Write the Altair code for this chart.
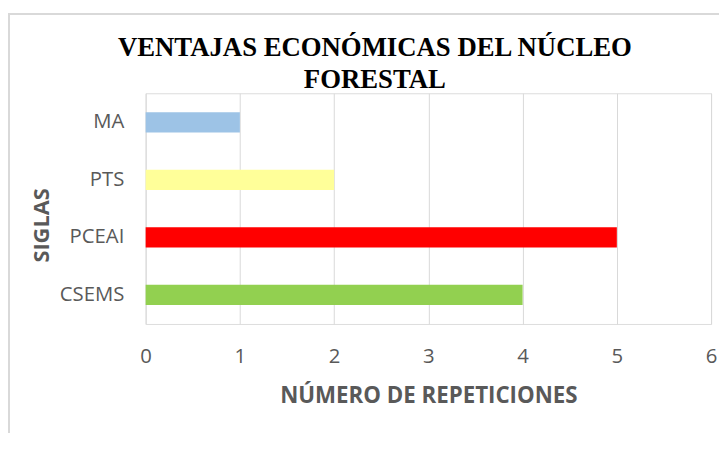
import altair as alt
import pandas as pd

categories = ["MA", "PTS", "PCEAI", "CSEMS"]
values = [1, 2, 5, 4]
colors = ["#9DC3E6", "#FFFF99", "#FF0000", "#92D050"]
x_ticks = [0, 1, 2, 3, 4, 5, 6]

df = pd.DataFrame({"sigla": categories, "rep": values})

bars = alt.Chart(df).mark_bar().encode(
    y=alt.Y("sigla:N", sort=categories,
            scale=alt.Scale(paddingInner=0.65, paddingOuter=0.33),
            axis=alt.Axis(title="SIGLAS", titleFont="Open Sans", titleFontSize=22,
                          titleFontWeight="bold", titleColor="#595959",
                          titleAngle=270, titleX=-105, titleY=133,
                          titleAlign="center", titleBaseline="middle",
                          labelFont="Open Sans", labelFontSize=20.5, labelColor="#595959",
                          labelPadding=22, ticks=False, domain=False, grid=False)),
    x=alt.X("rep:Q", scale=alt.Scale(domain=[0, 6], nice=False),
            axis=alt.Axis(title="NÚMERO DE REPETICIONES", titleFont="Open Sans",
                          titleFontSize=22.5, titleFontWeight="bold", titleColor="#595959",
                          titleY=72, titleBaseline="middle",
                          values=x_ticks, format="d", labelFlush=False,
                          labelFont="Open Sans", labelFontSize=20.5, labelColor="#595959",
                          labelPadding=23, ticks=False, domain=False,
                          grid=True, gridColor="#D9D9D9", gridWidth=1)),
    color=alt.Color("sigla:N", scale=alt.Scale(domain=categories, range=colors), legend=None),
)

frame = alt.Chart(df).mark_rect(fill=None, stroke="#D9D9D9", strokeWidth=1.5).encode(
    x=alt.value(-138), x2=alt.value(640), y=alt.value(-80), y2=alt.value(400)
)

chart = alt.layer(frame, bars).properties(
    width=571, height=233,
    autosize=alt.AutoSizeParams(type="none"),
    padding={"left": 139, "top": 84, "right": 8, "bottom": 108},
    title=alt.TitleParams(
        text=["VENTAJAS ECONÓMICAS DEL NÚCLEO", "FORESTAL"],
        font="Liberation Serif", fontSize=27, fontWeight="bold", color="#000000",
        lineHeight=32, anchor="middle", frame="group", dx=-54, offset=-81,
    ),
).configure_view(stroke=None).configure(background="white")

chart.save("out.html", embed_options={"renderer": "svg", "actions": False})
